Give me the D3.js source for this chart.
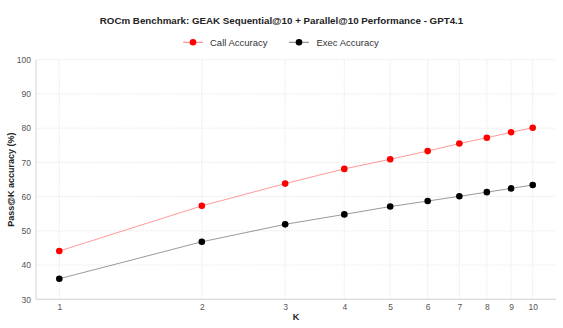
<!DOCTYPE html>
<html><head><meta charset="utf-8">
<script src="https://cdn.jsdelivr.net/npm/d3@7"></script>
<style>body{margin:0;background:#fff}svg{display:block;font-family:"Liberation Sans",Arial,sans-serif}</style>
</head><body><svg id="c" width="563" height="328"></svg>
<script>
const kValues = [1,2,3,4,5,6,7,8,9,10];
const callAccuracy = [44.1,57.3,63.8,68.1,70.9,73.3,75.5,77.2,78.8,80.1];
const execAccuracy = [36.0,46.8,51.9,54.8,57.1,58.7,60.1,61.3,62.4,63.4];
const yTicks = [30,40,50,60,70,80,90,100];
const title = "ROCm Benchmark: GEAK Sequential@10 + Parallel@10 Performance - GPT4.1";
const seriesNames = ["Call Accuracy","Exec Accuracy"];
const seriesColors = ["#ff0000","#000000"];

const svg = d3.select("#c");
const plot = {left:36, right:556, top:60, bottom:299.3};
const x = d3.scaleLog().domain([1,10]).range([59.3,532.7]);
const y = d3.scaleLinear().domain([30,100]).range([299.3,59.7]);

// grid
svg.append("g").selectAll("line").data(yTicks).join("line")
  .attr("x1",plot.left).attr("x2",plot.right)
  .attr("y1",d=>y(d)).attr("y2",d=>y(d))
  .attr("stroke","#e4e4e4").attr("stroke-width",0.8).attr("stroke-dasharray","1.5,1");
svg.append("g").selectAll("line").data(kValues).join("line")
  .attr("y1",plot.top).attr("y2",plot.bottom)
  .attr("x1",d=>x(d)).attr("x2",d=>x(d))
  .attr("stroke","#e4e4e4").attr("stroke-width",0.8).attr("stroke-dasharray","1.5,1");
// axes frame
svg.append("line").attr("x1",plot.left).attr("x2",plot.left).attr("y1",plot.top).attr("y2",plot.bottom).attr("stroke","#d4d4d4").attr("stroke-width",1);
svg.append("line").attr("x1",plot.left).attr("x2",plot.right).attr("y1",plot.bottom).attr("y2",plot.bottom).attr("stroke","#d4d4d4").attr("stroke-width",1);

// axes via d3
const ya = svg.append("g").attr("transform",`translate(${plot.left},0)`)
  .call(d3.axisLeft(y).tickValues(yTicks).tickSize(0).tickPadding(5));
ya.select(".domain").remove();
ya.selectAll("text").attr("font-size",8.5).attr("fill","#555").attr("font-family","Liberation Sans, Arial, sans-serif");
const xa = svg.append("g").attr("transform",`translate(0,${plot.bottom})`)
  .call(d3.axisBottom(x).tickValues(kValues).tickFormat(d3.format("d")).tickSize(0).tickPadding(5));
xa.select(".domain").remove();
xa.selectAll("text").attr("font-size",8.5).attr("fill","#555").attr("font-family","Liberation Sans, Arial, sans-serif");

// lines
const series = [callAccuracy, execAccuracy];
series.forEach((vals,i)=>{
  const pts = kValues.map((k,j)=>[k,vals[j]]);
  svg.append("path").datum(pts)
    .attr("d",d3.line().x(d=>x(d[0])).y(d=>y(d[1])))
    .attr("fill","none").attr("stroke",seriesColors[i]).attr("stroke-opacity",0.4).attr("stroke-width",1);
  svg.append("g").selectAll("circle").data(pts).join("circle")
    .attr("cx",d=>x(d[0])).attr("cy",d=>y(d[1])).attr("r",3.3).attr("fill",seriesColors[i]);
});

// title
svg.append("text").attr("x",281.5).attr("y",24).attr("text-anchor","middle")
  .attr("font-size",9.75).attr("font-weight","bold").attr("fill","#222").text(title);
// legend
const lg = [{x0:183,tx:210},{x0:289,tx:316.5}];
seriesNames.forEach((n,i)=>{
  const g = svg.append("g");
  g.append("line").attr("x1",lg[i].x0).attr("x2",lg[i].x0+20).attr("y1",42.3).attr("y2",42.3)
    .attr("stroke",seriesColors[i]).attr("stroke-opacity",0.5).attr("stroke-width",1);
  g.append("circle").attr("cx",lg[i].x0+10).attr("cy",42.3).attr("r",3.3).attr("fill",seriesColors[i]);
  g.append("text").attr("x",lg[i].tx).attr("y",45.6).attr("font-size",9.5).attr("fill","#333").text(n);
});
// axis titles
svg.append("text").attr("x",296).attr("y",320).attr("text-anchor","middle")
  .attr("font-size",9).attr("font-weight","bold").attr("fill","#222").text("K");
svg.append("text").attr("transform",`translate(14,${(plot.top+plot.bottom)/2}) rotate(-90)`)
  .attr("text-anchor","middle").attr("font-size",9).attr("font-weight","bold").attr("fill","#222").text("Pass@K accuracy (%)");
</script></body></html>
